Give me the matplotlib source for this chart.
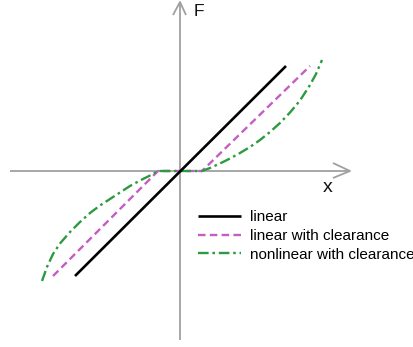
import matplotlib
matplotlib.use("Agg")
import matplotlib.pyplot as plt

plt.rcParams["font.family"] = ["Liberation Sans", "DejaVu Sans"]

# Force-displacement characteristics (schematic units)
x_linear = [-105, 106]
F_linear = [-105, 105]

x_clear = [-127, -22, 22, 130]
F_clear = [-105, 0, 0, 105]

x_nonlin = [-138, -133, -127, -120, -110, -100, -90, -80, -70, -60, -50, -40, -30, -22,
            22, 30, 40, 50, 60, 70, 80, 90, 100, 110, 120, 130, 136, 142]
F_nonlin = [-110, -96, -83, -72.5, -61, -51, -42, -34.5, -28, -21.5, -15, -9.5, -4.5, 0,
            0, 3, 7.5, 12.5, 18, 24, 31, 39, 48, 58.5, 70.5, 86, 97, 111]

labels = ["linear", "linear with clearance", "nonlinear with clearance"]
colors = ["#000000", "#C45EC4", "#2E9A40"]

fig = plt.figure(figsize=(4.14, 3.47), dpi=100)
ax = fig.add_axes([0, 0, 1, 1])
ax.set_xlim(-180, 234)
ax.set_ylim(-176, 171)
ax.axis("off")

axis_kw = dict(color="#a0a0a0", lw=1.3, solid_capstyle="butt", zorder=1)
# coordinate axes with open arrowheads
ax.plot([-170, 170], [0, 0], **axis_kw)
ax.plot([153, 170, 153], [8, 0, -7], **axis_kw)
ax.plot([0, 0], [-169, 169], **axis_kw)
ax.plot([-7, 0, 6], [156, 169, 156], **axis_kw)

ax.text(14, 160, "F", fontsize=12.5, ha="left", va="center", color="#111111")
ax.text(148, -17, "x", fontsize=14, ha="center", va="center", color="#111111")

l1, = ax.plot(x_linear, F_linear, color=colors[0], lw=1.9, zorder=3,
              solid_capstyle="butt")
l2, = ax.plot(x_clear, F_clear, color=colors[1], lw=1.7, zorder=2,
              linestyle=(0, (3.2, 1.8)))
l3, = ax.plot(x_nonlin, F_nonlin, color=colors[2], lw=1.7, zorder=2,
              linestyle=(0, (4.5, 1.6, 1.1, 1.6)))

ax.legend([l1, l2, l3], labels, loc="upper left",
          bbox_to_anchor=(18, -39), bbox_transform=ax.transData,
          frameon=False, fontsize=11, borderpad=0, borderaxespad=0,
          handlelength=2.8, handletextpad=0.62, labelspacing=0.32)

fig.savefig("out.png", dpi=100)
